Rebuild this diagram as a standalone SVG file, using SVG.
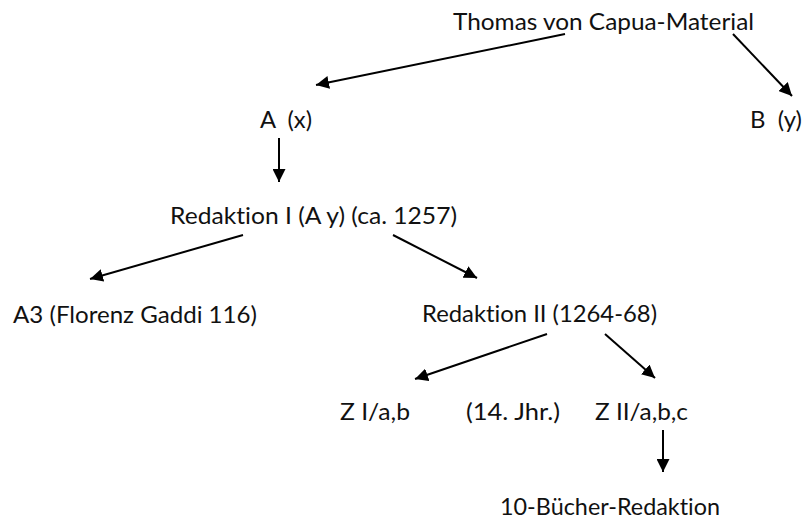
<svg xmlns="http://www.w3.org/2000/svg" width="806" height="519" viewBox="0 0 806 519">
<style>
text { font-family: Lato, "Liberation Sans", Arial, sans-serif; font-size: 23.5px; fill: #111; white-space: pre; font-variant-ligatures: none; font-feature-settings: "liga" 0, "clig" 0, "dlig" 0; }
.edge { stroke: #000; stroke-width: 2; fill: none; marker-end: url(#ah); }
</style>
<defs>
<marker id="ah" markerWidth="13" markerHeight="13" refX="13" refY="6.5" orient="auto" markerUnits="userSpaceOnUse">
<path d="M0,0 L13,6.5 L0,13 z" fill="#000"/>
</marker>
</defs>
<rect width="806" height="519" fill="#fff"/>
<g id="connectors">
<line class="edge" x1="565" y1="34" x2="316" y2="85"/>
<line class="edge" x1="733" y1="34" x2="792" y2="96"/>
<line class="edge" x1="279" y1="138" x2="279" y2="182"/>
<line class="edge" x1="243" y1="235" x2="90" y2="279"/>
<line class="edge" x1="393" y1="235" x2="477" y2="278"/>
<line class="edge" x1="547" y1="334" x2="415" y2="379"/>
<line class="edge" x1="605" y1="334" x2="655" y2="378"/>
<line class="edge" x1="663" y1="430" x2="663" y2="472"/>
</g>
<g id="n-thomas"><text x="453" y="30" textLength="301" lengthAdjust="spacingAndGlyphs">Thomas von Capua-Material</text></g>
<g id="n-a"><text x="260" y="128" textLength="52" lengthAdjust="spacingAndGlyphs">A  (x)</text></g>
<g id="n-b"><text x="750" y="128" textLength="52" lengthAdjust="spacingAndGlyphs">B  (y)</text></g>
<g id="n-red1"><text x="170" y="224" textLength="287" lengthAdjust="spacingAndGlyphs">Redaktion I (A y) (ca. 1257)</text></g>
<g id="n-a3"><text x="13" y="323" textLength="244" lengthAdjust="spacingAndGlyphs">A3 (Florenz Gaddi 116)</text></g>
<g id="n-red2"><text x="422" y="322" textLength="235" lengthAdjust="spacingAndGlyphs">Redaktion II (1264-68)</text></g>
<g id="n-z1"><text x="340" y="420" textLength="70" lengthAdjust="spacingAndGlyphs">Z I/a,b</text></g>
<g id="n-jhr"><text x="466" y="420" textLength="94" lengthAdjust="spacingAndGlyphs">(14. Jhr.)</text></g>
<g id="n-z2"><text x="595" y="420" textLength="93" lengthAdjust="spacingAndGlyphs">Z II/a,b,c</text></g>
<g id="n-10b"><text x="500" y="515" textLength="220" lengthAdjust="spacingAndGlyphs">10-Bücher-Redaktion</text></g>
</svg>
